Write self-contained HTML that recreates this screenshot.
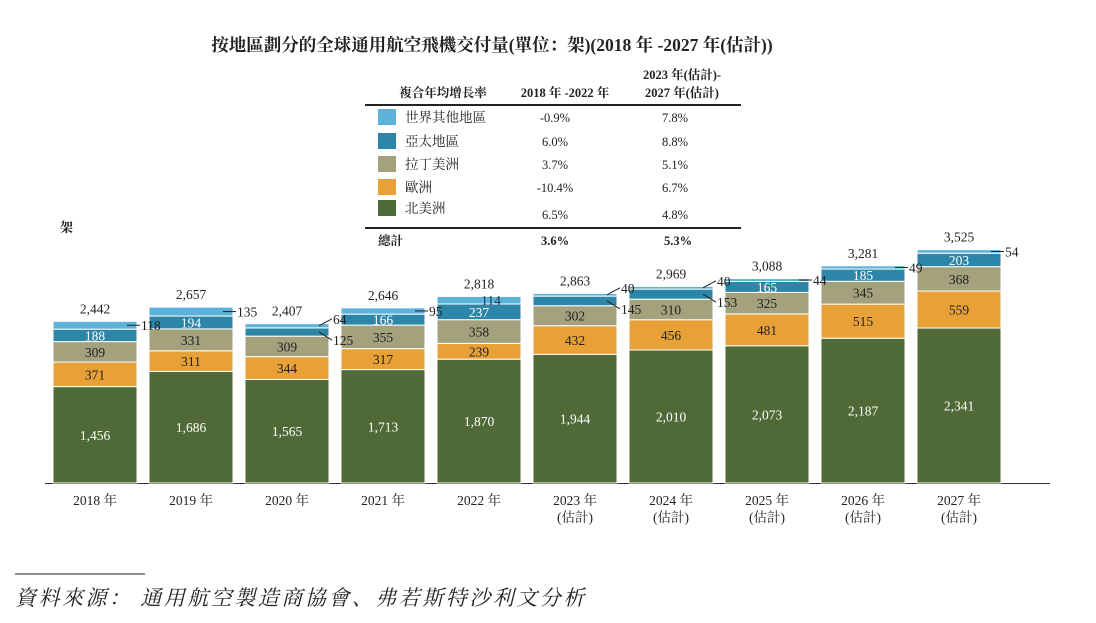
<!DOCTYPE html>
<html><head><meta charset="utf-8">
<style>
body{margin:0;background:#fff;}
svg text{font-family:"Liberation Serif","Noto Serif CJK SC","Noto Sans CJK TC",serif;fill:#222;}
</style></head>
<body>
<svg width="1096" height="618" viewBox="0 0 1096 618" id="c">
<text x="492" y="51" text-anchor="middle" font-size="17.5" font-weight="bold">按地區劃分的全球通用航空飛機交付量(單位：架)(2018 年 -2027 年(估計))</text>
<g font-size="12.5">
<text x="443" y="97" text-anchor="middle" font-weight="bold">複合年均增長率</text>
<text x="565" y="97" text-anchor="middle" font-weight="bold">2018 年 -2022 年</text>
<text x="682" y="79" text-anchor="middle" font-weight="bold">2023 年(估計)-</text>
<text x="682" y="97" text-anchor="middle" font-weight="bold">2027 年(估計)</text>
<line x1="365" y1="105" x2="741" y2="105" stroke="#222" stroke-width="2"/>
<line x1="365" y1="228" x2="741" y2="228" stroke="#222" stroke-width="2"/>
<text x="378" y="245" font-weight="bold">總計</text>
<text x="555" y="245" text-anchor="middle" font-weight="bold">3.6%</text>
<text x="678" y="245" text-anchor="middle" font-weight="bold">5.3%</text>
</g>
<line x1="45" y1="483.5" x2="1050" y2="483.5" stroke="#333" stroke-width="1"/>
<text x="60" y="232" font-size="13" font-weight="bold">架</text>
<line x1="15" y1="574" x2="145" y2="574" stroke="#222" stroke-width="1"/>
<text x="15" y="605" font-size="21" font-style="italic" letter-spacing="2.5">資料來源：  通用航空製造商協會、弗若斯特沙利文分析</text>
</svg>
<script>
const years=["2018 年","2019 年","2020 年","2021 年","2022 年","2023 年","2024 年","2025 年","2026 年","2027 年"];
const estimated=[false,false,false,false,false,true,true,true,true,true];
const northAmerica=[1456,1686,1565,1713,1870,1944,2010,2073,2187,2341];
const europe=[371,311,344,317,239,432,456,481,515,559];
const latinAmerica=[309,331,309,355,358,302,310,325,345,368];
const asiaPacific=[188,194,125,166,237,145,153,165,185,203];
const restOfWorld=[118,135,64,95,114,40,40,44,49,54];
const totals=["2,442","2,657","2,407","2,646","2,818","2,863","2,969","3,088","3,281","3,525"];
const seriesNames=["北美洲","歐洲","拉丁美洲","亞太地區","世界其他地區"];
const cagr1=["6.5%","-10.4%","3.7%","6.0%","-0.9%"];
const cagr2=["4.8%","6.7%","5.1%","8.8%","7.8%"];
const colors=["#4f6a36","#e8a136","#a4a27c","#2c86a7","#5cb2d9"];
const series=[northAmerica,europe,latinAmerica,asiaPacific,restOfWorld];
const NS="http://www.w3.org/2000/svg",svg=document.getElementById('c');
const base=483,k=0.0662,x0=95,step=96,bw=84;
const y=v=>base-v*k, xc=i=>x0+i*step;
function mk(t,a,txt){const e=document.createElementNS(NS,t);for(const n in a)e.setAttribute(n,a[n]);if(txt!=null)e.textContent=txt;svg.appendChild(e);return e;}
const rowsY=[121,145,168,191,212];
for(let s=4;s>=0;s--){const r=4-s;const yy=rowsY[r];
 const sw=mk('rect',{x:378,y:yy-12,width:18,height:16,fill:colors[s]});
 
 
 const t=mk('text',{x:405,y:yy+1,'font-size':13.5},seriesNames[s]);
 
 
 const a=mk('text',{x:555,y:yy+(s==0?7:1),'text-anchor':'middle','font-size':12.5},cagr1[s]);
 
 
 const b=mk('text',{x:675,y:yy+(s==0?7:1),'text-anchor':'middle','font-size':12.5},cagr2[s]);
 
 
}
const apOut=[2,5,6], rwIn=[4];
years.forEach((yr,i)=>{
 let cum=0;const cx=xc(i);
 series.forEach((ser,s)=>{
  const v=ser[i];const top=y(cum+v),bot=y(cum);
  const r=mk('rect',{x:cx-bw/2,y:top,width:bw,height:bot-top,fill:colors[s],stroke:'#fff','stroke-width':1});
  
  
  cum+=v;
 });
});
years.forEach((yr,i)=>{
 let cum=0;const cx=xc(i);
 series.forEach((ser,s)=>{
  const v=ser[i];const top=y(cum+v),bot=y(cum);
  const mid=(top+bot)/2;let lab;
  if(s<3 || (s==3&&!apOut.includes(i)) || (s==4&&rwIn.includes(i))){
   const lx=(s==4)?cx+12:cx;
   const lyy=(s==4)?mid+5:mid+5;
   lab=mk('text',{x:lx,y:lyy,'text-anchor':'middle','font-size':13.5},v.toLocaleString('en-US'));
   if(s==0||s==3)lab.style.fill='#fff';
   if(s==4)lab.style.fill='#1d3550';
  }else{
   const ly=s==4?mid-(apOut.includes(i)?7:0):mid+8;
   const ln=mk('line',{x1:cx+bw/2-10,y1:mid,x2:cx+bw/2+3,y2:ly,stroke:'#222','stroke-width':1});
   
   
   lab=mk('text',{x:cx+bw/2+4,y:ly+5,'font-size':13.5},v.toLocaleString('en-US'));
  }
  
  
  cum+=v;
 });
 const tt=mk('text',{x:cx,y:y(cum)-8,'text-anchor':'middle','font-size':13.5},totals[i]);
 
 
 const xl=mk('text',{x:cx,y:505,'text-anchor':'middle','font-size':13.5},yr);
 
 
 if(estimated[i]){const e=mk('text',{x:cx,y:522,'text-anchor':'middle','font-size':13.5},'(估計)');
  
  }
});
</script>
</body></html>
